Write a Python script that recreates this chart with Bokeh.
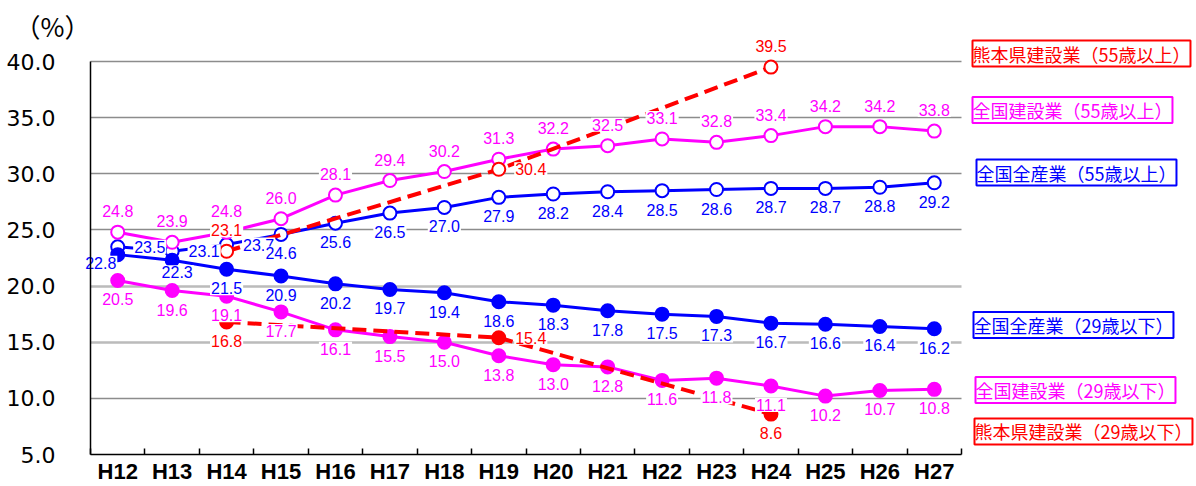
from bokeh.plotting import figure
from bokeh.models import Range1d, FixedTicker, PrintfTickFormatter, ColumnDataSource, Label, Grid
from bokeh.core.properties import value
from bokeh.embed import file_html
from bokeh.resources import INLINE

# ---- data ----
years = ["H12", "H13", "H14", "H15", "H16", "H17", "H18", "H19",
         "H20", "H21", "H22", "H23", "H24", "H25", "H26", "H27"]
zenkoku_zensangyo_55 = [23.5, 23.1, 23.7, 24.6, 25.6, 26.5, 27.0, 27.9,
                        28.2, 28.4, 28.5, 28.6, 28.7, 28.7, 28.8, 29.2]
zenkoku_kensetsu_55 = [24.8, 23.9, 24.8, 26.0, 28.1, 29.4, 30.2, 31.3,
                       32.2, 32.5, 33.1, 32.8, 33.4, 34.2, 34.2, 33.8]
zenkoku_zensangyo_29 = [22.8, 22.3, 21.5, 20.9, 20.2, 19.7, 19.4, 18.6,
                        18.3, 17.8, 17.5, 17.3, 16.7, 16.6, 16.4, 16.2]
zenkoku_kensetsu_29 = [20.5, 19.6, 19.1, 17.7, 16.1, 15.5, 15.0, 13.8,
                       13.0, 12.8, 11.6, 11.8, 11.1, 10.2, 10.7, 10.8]
kumamoto_years = ["H14", "H19", "H24"]
kumamoto_kensetsu_55 = [23.1, 30.4, 39.5]
kumamoto_kensetsu_29 = [16.8, 15.4, 8.6]
y_ticks = [5, 10, 15, 20, 25, 30, 35, 40]
name_kk55 = "熊本県建設業（55歳以上）"
name_zk55 = "全国建設業（55歳以上）"
name_zz55 = "全国全産業（55歳以上）"
name_zz29 = "全国全産業（29歳以下）"
name_zk29 = "全国建設業（29歳以下）"
name_kk29 = "熊本県建設業（29歳以下）"
unit_label = "（%）"

# ---- label placement (style) ----
pos_zz55 = ["r", "r", "r"] + ["b"] * 13
pos_zk55 = ["a"] * 16
pos_zz29 = ["bl", "b2"] + ["b"] * 14
pos_zk29 = ["b"] * 16
pos_kk55 = ["a", "r", "a"]
pos_kk29 = ["b", "r", "b"]
OFF = {"a": (0, -21), "b": (0, 19), "r": (32, 0), "bl": (-17, 8), "b2": (5, 12)}

BLUE = "#0000FF"
MAG = "#FF00FF"
RED = "#FF0000"

W, H = 1196, 486
# plot area (pixels) of the axes box
AX_L, AX_R, AX_T, AX_B = 90, 961, 61, 454
X0, X1 = -0.5, len(years) - 0.5
Y0, Y1 = y_ticks[0], y_ticks[-1]
kx = (AX_R - AX_L) / (X1 - X0)
ky = (AX_B - AX_T) / (Y1 - Y0)
x_range = Range1d(X0 - AX_L / kx, X1 + (W - AX_R) / kx)
y_range = Range1d(Y0 - (H - AX_B) / ky, Y1 + AX_T / ky)

p = figure(width=W, height=H, x_range=x_range, y_range=y_range,
           output_backend="svg", toolbar_location=None,
           min_border_left=0, min_border_right=0, min_border_top=0, min_border_bottom=0)
p.outline_line_color = None
p.background_fill_color = "white"
p.border_fill_color = "white"

# x axis
idx = {y: i for i, y in enumerate(years)}
xa = p.xaxis[0]
xa.fixed_location = Y0
xa.bounds = (X0, X1)
xa.ticker = FixedTicker(ticks=list(range(len(years))),
                        minor_ticks=[i - 0.5 for i in range(len(years) + 1)])
xa.major_label_overrides = {i: y for i, y in enumerate(years)}
xa.major_tick_line_color = None
xa.major_tick_in = 0
xa.major_tick_out = 0
xa.minor_tick_in = 6
xa.minor_tick_out = 0
xa.minor_tick_line_color = "black"
xa.minor_tick_line_width = 1.5
xa.axis_line_color = "black"
xa.axis_line_width = 1.5
xa.major_label_text_font = "Liberation Sans"
xa.major_label_text_font_style = "bold"
xa.major_label_text_font_size = "22px"
xa.major_label_text_color = "black"
xa.major_label_standoff = 4
p.xgrid.visible = False

# y axis
ya = p.yaxis[0]
ya.fixed_location = X0
ya.bounds = (Y0, Y1)
ya.ticker = FixedTicker(ticks=y_ticks)
ya.formatter = PrintfTickFormatter(format="%.1f")
ya.major_tick_line_color = None
ya.minor_tick_line_color = None
ya.axis_line_color = "black"
ya.axis_line_width = 1.5
ya.major_label_text_font = "DejaVu Sans"
ya.major_label_text_font_size = "22px"
ya.major_label_text_color = "black"
ya.major_label_standoff = 29

has_cross = "cross_bounds" in Grid.properties()
p.ygrid.ticker = FixedTicker(ticks=[10, 25, 30, 35, 40])
p.ygrid.grid_line_color = "#8c8c8c"
p.ygrid.grid_line_width = 1.5
p.ygrid.bounds = (Y0, Y1)
if has_cross:
    p.ygrid.cross_bounds = (X0, X1)
g2 = Grid(dimension=1, ticker=FixedTicker(ticks=[15, 20]), bounds=(Y0, Y1),
          grid_line_color="#bbbbbb", grid_line_width=2.5)
if has_cross:
    g2.cross_bounds = (X0, X1)
p.add_layout(g2)


def series(xcats, vals, color, filled, dashed, pos):
    xs = [idx[c] for c in xcats]
    src = ColumnDataSource(dict(
        x=xs, y=vals, text=["%.1f" % v for v in vals],
        dx=[OFF[k][0] for k in pos], dy=[OFF[k][1] for k in pos]))
    if dashed:
        p.line("x", "y", source=src, line_color=color, line_width=4, line_dash="14 7")
    else:
        p.line("x", "y", source=src, line_color=color, line_width=3)
    p.scatter("x", "y", source=src, size=13, marker="circle",
              fill_color=color if filled else "white", line_color=color, line_width=2)
    return src


srcs = [
    (series(years, zenkoku_zensangyo_55, BLUE, False, False, pos_zz55), BLUE),
    (series(years, zenkoku_zensangyo_29, BLUE, True, False, pos_zz29), BLUE),
    (series(years, zenkoku_kensetsu_55, MAG, False, False, pos_zk55), MAG),
    (series(years, zenkoku_kensetsu_29, MAG, True, False, pos_zk29), MAG),
    (series(kumamoto_years, kumamoto_kensetsu_55, RED, False, True, pos_kk55), RED),
    (series(kumamoto_years, kumamoto_kensetsu_29, RED, True, True, pos_kk29), RED),
]
for src, color in srcs:
    p.text("x", "y", text="text", source=src, x_offset="dx", y_offset="dy",
           text_font=value("Liberation Sans"), text_font_size="16px",
           text_color=color, text_align="center", text_baseline="middle",
           background_fill_color="white", padding=1)

# right-side series name boxes
legend_items = [
    (name_kk55, RED, 40.71, 972),
    (name_zk55, MAG, 35.68, 972),
    (name_zz55, BLUE, 30.11, 976),
    (name_zz29, BLUE, 16.53, 973),
    (name_zk29, MAG, 10.74, 975),
    (name_kk29, RED, 7.05, 974),
]
for txt, color, yy, xx in legend_items:
    p.add_layout(Label(x=xx, x_units="screen", y=yy, y_units="data", text=txt,
                       text_font="Noto Sans CJK JP", text_font_size="18px",
                       text_color=color, text_align="left", text_baseline="middle",
                       border_line_color=color, border_line_width=2,
                       background_fill_color="white", padding=0))

p.add_layout(Label(x=52, x_units="screen", y=Y1 + (AX_T - 25) / ky, y_units="data",
                   text=unit_label, text_font="Noto Sans CJK JP", text_font_size="26px",
                   text_color="black", text_align="center", text_baseline="middle"))

open("out.html", "w").write(file_html(p, INLINE))
